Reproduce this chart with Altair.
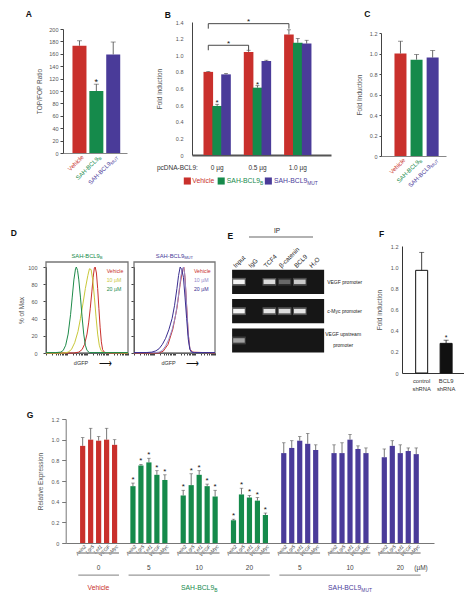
import altair as alt
import pandas as pd

FONT = "Liberation Sans"
RED = "#C9302C"
GREEN = "#158A4B"
PURPLE = "#4A3B99"
TXT = "#555555"
AXC = "#444444"
SER_COLORS = [RED, GREEN, PURPLE]

# ---------------- data ----------------
# treatment names (main part + subscript part)
names_main = ["Vehicle", "SAH-BCL9", "SAH-BCL9"]
names_sub = ["", "B", "MUT"]

# A
a_values = [173, 100, 159]
a_errors = [8, 11, 20]
a_sig = ["", "*", ""]

# B  (y positions follow the printed axis, whose labels repeat 0.6)
b_doses = ["0 µg", "0.5 µg", "1.0 µg"]
b_tick_labels = ["0", "0.2", "0.4", "0.6", "0.6", "0.8", "1.0", "1.2", "1.4"]
b_vehicle = [1.00, 1.24, 1.45]
b_bcl9b = [0.59, 0.81, 1.35]
b_mut = [0.97, 1.13, 1.34]
b_vehicle_err = [0.005, 0.02, 0.056]
b_bcl9b_err = [0.02, 0.024, 0.052]
b_mut_err = [0.01, 0.01, 0.04]
b_bcl9b_sig = ["*", "*", ""]
b_bracket_from = ["0 µg", "0 µg"]
b_bracket_to = ["0.5 µg", "1.0 µg"]
b_bracket_level = [1.32, 1.58]

# C
c_values = [1.00, 0.94, 0.96]
c_errors = [0.12, 0.05, 0.07]

# D  flow histograms (x: log fluorescence 0-100, y: % of max)
d_left_vehicle_x = [0, 34, 40, 44, 47, 50, 52, 54, 56, 57.5, 59, 60, 61.5, 63, 64.5, 66, 67.5, 69, 71, 75, 100]
d_left_vehicle_y = [0, 0, 1, 4, 10, 22, 35, 52, 72, 88, 99, 100, 93, 75, 52, 30, 13, 4, 1, 0, 0]
d_left_10_x = [0, 22, 27, 31, 35, 39, 42, 45, 48, 51, 53, 55, 57, 59, 61, 63, 65, 67, 70, 100]
d_left_10_y = [0, 0, 1, 4, 12, 25, 40, 57, 75, 90, 98, 97, 85, 65, 42, 22, 9, 3, 0.5, 0]
d_left_20_x = [0, 12, 18, 21, 24, 27, 30, 32, 34, 36, 37, 38.5, 40, 42, 44, 46, 48, 50, 53, 100]
d_left_20_y = [0.5, 0.5, 1, 3, 9, 22, 45, 65, 85, 98, 100, 96, 85, 65, 42, 22, 9, 3, 0.5, 0.5]
d_right_vehicle_x = [0, 30, 36, 42, 48, 53, 57, 60, 61.5, 63, 65, 67, 69, 72, 100]
d_right_vehicle_y = [0, 0, 2, 10, 28, 52, 80, 97, 100, 88, 55, 22, 5, 1, 0]
d_right_10_x = [0, 25, 31, 35, 39, 43, 47, 51, 54, 56, 58, 60, 61, 62.5, 64, 65.5, 67, 68.5, 70, 73, 100]
d_right_10_y = [0.5, 0.5, 1, 3, 8, 16, 27, 42, 60, 75, 90, 98, 100, 93, 72, 45, 22, 8, 2, 0.5, 0.5]
d_right_20_x = [0, 15, 22, 27, 31, 35, 39, 43, 47, 50, 53, 55, 57, 59, 61, 63, 65, 67, 69, 71, 75, 100]
d_right_20_y = [0.5, 0.5, 1, 2.5, 5, 10, 17, 27, 40, 55, 75, 90, 100, 97, 88, 65, 40, 16, 4, 1, 0.5, 0.5]
d_legend = ["Vehicle", "10 µM", "20 µM"]
d_left_colors = [RED, "#C9C83A", "#1E8B4A"]
d_right_colors = [RED, "#948CCB", "#3B2E90"]

# E  ChIP gel (band intensity 0-1)
e_lanes = ["Input", "IgG", "TCF4", "β-catenin", "BCL9", "H₂O"]
e_targets = ["VEGF promoter", "c-Myc promoter", "VEGF upstream\npromoter"]
e_bands = [[1.0, 0.0, 0.85, 0.3, 0.75, 0.0],
           [1.0, 0.0, 0.9, 0.85, 0.9, 0.0],
           [0.55, 0.0, 0.0, 0.0, 0.0, 0.0]]

# F
f_labels = ["control\nshRNA", "BCL9\nshRNA"]
f_values = [0.97, 0.28]
f_errors = [0.17, 0.03]
f_sig = ["", "*"]
f_fill = ["#FFFFFF", "#111111"]

# G
g_group_treatment = [0, 1, 1, 1, 2, 2, 2]
g_group_dose = ["0", "5", "10", "20", "5", "10", "20"]
g_genes = ["Axin2", "Lgr5", "Lef1", "VEGF", "cMyc"]
g_values = [[0.94, 1.00, 0.99, 1.00, 0.95],
            [0.55, 0.75, 0.78, 0.66, 0.61],
            [0.46, 0.56, 0.66, 0.55, 0.45],
            [0.22, 0.47, 0.44, 0.41, 0.27],
            [0.87, 0.92, 0.99, 0.96, 0.90],
            [0.87, 0.87, 1.00, 0.91, 0.87],
            [0.83, 0.94, 0.87, 0.89, 0.86]]
g_errors = [[0.08, 0.11, 0.04, 0.11, 0.05],
            [0.03, 0.01, 0.04, 0.04, 0.05],
            [0.05, 0.11, 0.04, 0.02, 0.06],
            [0.01, 0.06, 0.02, 0.03, 0.02],
            [0.10, 0.07, 0.04, 0.10, 0.05],
            [0.08, 0.10, 0.05, 0.03, 0.05],
            [0.08, 0.05, 0.08, 0.03, 0.06]]
g_sig = [False, True, True, True, False, False, False]

# ---------------- layout helpers (one canvas, one view) ----------------
W, H = 456, 584
OX, OY = 7, 8          # canvas origin in figure coordinates


def PX(v):
    return v - OX


def PY(v):
    return v - OY


def sc(domain, rng):
    return alt.Scale(domain=domain, range=rng, nice=False, zero=False)


def yaxis_at(xfig, **kw):
    return alt.Axis(orient="left", offset=-PX(xfig), **kw)


def xaxis_at(yfig, **kw):
    return alt.Axis(orient="bottom", offset=-(H - PY(yfig)), **kw)


def text_layer(df, X, Y, **kw):
    return alt.Chart(df).mark_text(**kw).encode(
        x=X, y=Y, text="t:N", color=alt.Color("c:N", scale=None))


CHAR_W = {"A": .667, "B": .667, "C": .722, "H": .722, "L": .556, "M": .833, "S": .667,
          "T": .611, "U": .722, "V": .667, "-": .333, "e": .556, "h": .556, "i": .222,
          "c": .5, "l": .222, " ": .278}


def text_w(s, size):
    return sum(CHAR_W.get(ch, .556) for ch in s) * size


def name_layers(X, Y, x, y, main, sub, color, size, align="center", angle=0):
    """Text with a subscript part, e.g. SAH-BCL9 with B or MUT lowered."""
    ss = size * 0.72
    wm, ws = text_w(main, size), text_w(sub, ss)
    start = {"center": -(wm + ws) / 2, "left": 0, "right": -(wm + ws)}[align]
    out = [text_layer(pd.DataFrame({"x": [x], "y": [y], "t": [main], "c": [color]}), X, Y,
                      fontSize=size, align="left", baseline="middle", angle=angle, dx=start)]
    if sub:
        out.append(text_layer(pd.DataFrame({"x": [x], "y": [y], "t": [sub], "c": [color]}), X, Y,
                              fontSize=ss, align="left", baseline="middle", angle=angle,
                              dx=start + wm, dy=size * 0.38))
    return out


def letter(X, Y, x, y, t):
    return alt.Chart(pd.DataFrame({"x": [x], "y": [y], "t": [t], "c": ["#111"]})).mark_text(
        fontSize=8.5, fontWeight="bold", align="left", baseline="middle").encode(
        x=X, y=Y, text="t:N", color=alt.Color("c:N", scale=None))


def errbars(df, X, ys, ay, cap=5, color="#444"):
    rule = alt.Chart(df).mark_rule(strokeWidth=0.8, color=color).encode(
        x=X, y=alt.Y("y:Q", scale=ys, axis=ay), y2="e:Q")
    tick = alt.Chart(df).mark_tick(orient="horizontal", size=cap, thickness=0.8, color=color).encode(
        x=X, y=alt.Y("e:Q", scale=ys, axis=ay))
    return rule + tick


ONE_DEC = "datum.value == 0 ? '0' : format(datum.value, '.1f')"
NOX = dict(labels=False, ticks=False, title=None)

# ---------------- panel A ----------------
a_xs = sc([0, 3.2], [PX(62), PX(126)])
a_ys = sc([0, 200], [PY(153), PY(29)])
a_ax = xaxis_at(153, domainColor="#888", **NOX)
a_ay = yaxis_at(62, values=list(range(0, 201, 20)), title="TOP/FOP Ratio",
                titlePadding=6, tickSize=3, labelPadding=2)
XA = alt.X("x:Q", scale=a_xs, axis=a_ax)
YA = alt.Y("y:Q", scale=a_ys, axis=a_ay)
a_df = pd.DataFrame({
    "x": [i + 0.68 for i in range(3)], "y": a_values,
    "e": [v + e for v, e in zip(a_values, a_errors)], "c": SER_COLORS})
a_star = pd.DataFrame({"x": a_df["x"], "y": a_df["e"], "t": a_sig, "c": ["#111"] * 3})
a_names = []
for i in range(3):
    a_names += name_layers(XA, YA, i + 0.68 + 0.2, -5, names_main[i], names_sub[i],
                           SER_COLORS[i], 6, align="right", angle=315)
panelA = alt.layer(
    alt.Chart(a_df).mark_bar(size=14).encode(x=XA, y=YA, color=alt.Color("c:N", scale=None)),
    errbars(a_df, XA, a_ys, a_ay),
    text_layer(a_star, XA, YA, fontSize=9, baseline="alphabetic", dy=1),
    *a_names,
    letter(XA, YA, -2.5, 224, "A"),
)

# ---------------- panel B ----------------
b_xs = sc([0, 3.2], [PX(191), PX(330)])
b_ys = sc([0, 1.6], [PY(155), PY(22)])
b_ax = xaxis_at(155, domainColor="#555", domainWidth=2, **NOX)
b_label_expr = "[" + ",".join("'%s'" % s for s in b_tick_labels) + "][round(datum.value*5)]"
b_ay = yaxis_at(191, values=[i * 0.2 for i in range(9)], labelExpr=b_label_expr,
                title="Fold induction", tickSize=0, labelPadding=9, titlePadding=13)
XB = alt.X("x:Q", scale=b_xs, axis=b_ax)
YB = alt.Y("y:Q", scale=b_ys, axis=b_ay)
b_rows = []
for si, (vals, errs) in enumerate(zip([b_vehicle, b_bcl9b, b_mut],
                                      [b_vehicle_err, b_bcl9b_err, b_mut_err])):
    for gi in range(len(b_doses)):
        b_rows.append({"x": gi + 0.5 + (si - 1) * 0.22, "y": vals[gi], "e": vals[gi] + errs[gi],
                       "c": SER_COLORS[si],
                       "t": b_bcl9b_sig[gi] if si == 1 else ""})
b_df = pd.DataFrame(b_rows)
b_star = pd.DataFrame({"x": b_df["x"], "y": b_df["e"], "t": b_df["t"], "c": ["#111"] * len(b_df)})

br_h, br_v, br_s = [], [], []
for f, t, lv in zip(b_bracket_from, b_bracket_to, b_bracket_level):
    x1 = b_doses.index(f) + 0.5 - 0.22
    x2 = b_doses.index(t) + 0.5 - 0.22
    br_h.append({"x": x1, "x2": x2, "y": lv, "y2": lv})
    br_v.append({"x": x1, "x2": x1, "y": lv, "y2": lv - 0.06})
    br_v.append({"x": x2, "x2": x2, "y": lv, "y2": lv - 0.06})
    br_s.append({"x": (x1 + x2) / 2, "y": lv + 0.005, "t": "*", "c": "#111"})
br_df = pd.DataFrame(br_h + br_v)

b_dose_df = pd.DataFrame({"x": [0.02] + [i + 0.5 for i in range(3)], "y": [-0.157] * 4,
                          "t": ["pcDNA-BCL9:"] + b_doses, "c": ["#333"] * 4})
b_leg_sq = pd.DataFrame({"x": [-0.24, 0.60, 1.77], "y": [-0.313] * 3, "c": SER_COLORS})
b_leg_x = [-0.115, 0.74, 1.91]
b_names = []
for i in range(3):
    b_names += name_layers(XB, YB, b_leg_x[i], -0.313, names_main[i], names_sub[i],
                           SER_COLORS[i], 6.8, align="left")
panelB = alt.layer(
    alt.Chart(b_df).mark_bar(size=9.6).encode(x=XB, y=YB, color=alt.Color("c:N", scale=None)),
    errbars(b_df, XB, b_ys, b_ay, cap=4),
    text_layer(b_star, XB, YB, fontSize=8, baseline="alphabetic", dy=1),
    alt.Chart(br_df).mark_rule(strokeWidth=0.9, color="#333").encode(x=XB, x2="x2:Q", y=YB, y2="y2:Q"),
    text_layer(pd.DataFrame(br_s), XB, YB, fontSize=8, baseline="alphabetic", dy=1),
    text_layer(b_dose_df.iloc[:1], XB, YB, fontSize=6.5, align="right", baseline="middle"),
    text_layer(b_dose_df.iloc[1:], XB, YB, fontSize=6.5, align="center", baseline="middle"),
    alt.Chart(b_leg_sq).mark_square(size=50, opacity=1).encode(x=XB, y=YB, color=alt.Color("c:N", scale=None)),
    *b_names,
    letter(XB, YB, -0.8, 1.685, "B"),
)

# ---------------- panel C ----------------
c_xs = sc([0, 3.42], [PX(380), PX(445)])
c_ys = sc([0, 1.2], [PY(156), PY(33)])
c_ax = xaxis_at(156, domainColor="#888", **NOX)
c_ay = yaxis_at(380, values=[0, 0.2, 0.4, 0.6, 0.8, 1.0, 1.2], labelExpr=ONE_DEC,
                title="Fold Induction", tickSize=2, labelPadding=2, titlePadding=7)
XC = alt.X("x:Q", scale=c_xs, axis=c_ax)
YC = alt.Y("y:Q", scale=c_ys, axis=c_ay)
c_df = pd.DataFrame({"x": [i + 0.9 for i in range(3)], "y": c_values,
                     "e": [v + e for v, e in zip(c_values, c_errors)], "c": SER_COLORS})
c_names = []
for i in range(3):
    c_names += name_layers(XC, YC, i + 0.9 + 0.25, -0.03, names_main[i], names_sub[i],
                           SER_COLORS[i], 6, align="right", angle=315)
panelC = alt.layer(
    alt.Chart(c_df).mark_bar(size=12).encode(x=XC, y=YC, color=alt.Color("c:N", scale=None)),
    errbars(c_df, XC, c_ys, c_ay),
    *c_names,
    letter(XC, YC, -1.35, 1.385, "C"),
)

# ---------------- panel D ----------------
d_minor = [0, 7.5, 11.9, 15.1, 17.5, 19.5, 21.1, 22.6, 23.9]
d_ticks = [dec + m for dec in [0, 25, 50, 75] for m in d_minor] + [100]


def d_panel(x0, x1, curves_x, curves_y, colors, name_idx, left):
    xs = sc([0, 100], [PX(x0), PX(x1)])
    ys = sc([0, 100], [PY(353), PY(267)])
    ax = xaxis_at(353, values=d_ticks, labels=False, title=None, tickSize=2, domainColor="#333")
    ay = yaxis_at(x0, values=[0, 20, 40, 60, 80, 100], title="% of Max" if left else None,
                  labels=left, tickSize=3, labelPadding=6, titlePadding=3, domainColor="#333")
    X = alt.X("x:Q", scale=xs, axis=ax)
    Y = alt.Y("y:Q", scale=ys, axis=ay)
    rows = []
    for ci, (cx, cy) in enumerate(zip(curves_x, curves_y)):
        for xv, yv in zip(cx, cy):
            rows.append({"x": xv, "y": yv, "s": ci, "c": colors[ci]})
    cdf = pd.DataFrame(rows)
    frame = pd.DataFrame({"x": [0], "x2": [100], "y": [0], "y2": [105.8]})
    leg = pd.DataFrame({"x": [74] * 3, "y": [95.3, 85, 74.4], "t": d_legend, "c": colors})
    lab = pd.DataFrame({"x": [42.7, 72], "y": [-11.6, -11.6], "t": ["dGFP", "⟶"], "c": ["#333", "#111"]})
    layers = [
        alt.Chart(frame).mark_rect(fillOpacity=0, stroke="#777", strokeWidth=1.3).encode(
            x=X, x2="x2:Q", y=Y, y2="y2:Q"),
        alt.Chart(cdf).mark_line(strokeWidth=1).encode(
            x=X, y=Y, detail="s:N", color=alt.Color("c:N", scale=None)),
        text_layer(leg, X, Y, fontSize=5.2, align="left", baseline="middle"),
        *name_layers(X, Y, 50, 112.8, names_main[name_idx], names_sub[name_idx],
                     SER_COLORS[name_idx], 5.8, align="center"),
        text_layer(lab.iloc[:1], X, Y, fontSize=5.5, align="center", baseline="middle"),
        text_layer(lab.iloc[1:], X, Y, fontSize=9, align="center", baseline="middle"),
    ]
    if left:
        layers.append(letter(X, Y, -43, 139.5, "D"))
    return alt.layer(*layers)


panelD1 = d_panel(45, 127, [d_left_vehicle_x, d_left_10_x, d_left_20_x],
                  [d_left_vehicle_y, d_left_10_y, d_left_20_y], d_left_colors, 1, True)
panelD2 = d_panel(133, 214, [d_right_vehicle_x, d_right_10_x, d_right_20_x],
                  [d_right_vehicle_y, d_right_10_y, d_right_20_y], d_right_colors, 2, False)

# ---------------- panel E ----------------
e_xs = sc([-1.18, 10.72], [PX(220), PX(401)])
e_ys = sc([0, 8], [PY(353), PY(156)])
XE = alt.X("x:Q", scale=e_xs, axis=None)
YE = alt.Y("y:Q", scale=e_ys, axis=None)
row_c = [2.89 - 1.19 * k for k in range(3)]
gel = pd.DataFrame({"x": [-0.45] * 3, "x2": [5.6] * 3,
                    "y": [c - 0.49 for c in row_c], "y2": [c + 0.49 for c in row_c]})
bands, glow = [], []
for k, row in enumerate(e_bands):
    for li, v in enumerate(row):
        if v > 0:
            bands.append({"x": li - 0.38, "x2": li + 0.38, "y": row_c[k] - 0.09,
                          "y2": row_c[k] + 0.09, "o": v})
            glow.append({"x": li - 0.45, "x2": li + 0.45, "y": row_c[k] - 0.16,
                         "y2": row_c[k] + 0.16, "o": v * 0.3})
lane_df = pd.DataFrame({"x": [i - 0.3 for i in range(6)], "y": [3.5] * 6, "t": e_lanes,
                        "c": ["#222"] * 6})
tgt_df = pd.DataFrame({"x": [5.8, 5.8], "y": [row_c[0], row_c[1]], "t": e_targets[:2],
                       "c": ["#222"] * 2})
tgt2_df = pd.DataFrame({"x": [6.85], "y": [0.77], "t": [e_targets[2]], "c": ["#222"]})
ip_line = pd.DataFrame({"x": [0.66], "x2": [4.87], "y": [4.71], "y2": [4.71]})
ip_txt = pd.DataFrame({"x": [2.5], "y": [4.97], "t": ["IP"], "c": ["#222"]})
panelE = alt.layer(
    alt.Chart(gel).mark_rect(color="#161616").encode(x=XE, x2="x2:Q", y=YE, y2="y2:Q"),
    alt.Chart(pd.DataFrame(glow)).mark_rect(color="#FFFFFF").encode(
        x=XE, x2="x2:Q", y=YE, y2="y2:Q", opacity=alt.Opacity("o:Q", scale=None)),
    alt.Chart(pd.DataFrame(bands)).mark_rect(color="#F4F4F4").encode(
        x=XE, x2="x2:Q", y=YE, y2="y2:Q", opacity=alt.Opacity("o:Q", scale=None)),
    text_layer(lane_df, XE, YE, fontSize=6.3, angle=315, align="left", baseline="middle"),
    text_layer(tgt_df, XE, YE, fontSize=5, align="left", baseline="middle"),
    text_layer(tgt2_df, XE, YE, fontSize=5, align="center", baseline="middle", lineBreak="\n",
               lineHeight=11),
    alt.Chart(ip_line).mark_rule(color="#666", strokeWidth=1.2).encode(x=XE, x2="x2:Q", y=YE, y2="y2:Q"),
    text_layer(ip_txt, XE, YE, fontSize=6.5, align="center", baseline="middle"),
    letter(XE, YE, -0.75, 4.75, "E"),
)

# ---------------- panel F ----------------
f_xs = sc([0, 2.25], [PX(401), PX(466)])
f_ys = sc([0, 1.2], [PY(373), PY(246)])
f_ax = xaxis_at(373, domainColor="#333", **NOX)
f_ay = yaxis_at(401, values=[0, 0.2, 0.4, 0.6, 0.8, 1.0, 1.2], labelExpr=ONE_DEC,
                title="Fold induction", tickSize=0, labelPadding=4, titlePadding=8, domainColor="#333")
XF = alt.X("x:Q", scale=f_xs, axis=f_ax)
YF = alt.Y("y:Q", scale=f_ys, axis=f_ay)
f_df = pd.DataFrame({"x": [0.6, 1.6], "y": f_values,
                     "e": [v + e for v, e in zip(f_values, f_errors)], "f": f_fill})
f_star = pd.DataFrame({"x": [0.6, 1.6], "y": f_df["e"], "t": f_sig, "c": ["#111"] * 2})
f_lab = pd.DataFrame({"x": [0.6, 1.6], "y": [-0.05] * 2, "t": f_labels, "c": ["#333"] * 2})
panelF = alt.layer(
    alt.Chart(f_df).mark_bar(size=12, stroke="#111", strokeWidth=1).encode(
        x=XF, y=YF, fill=alt.Fill("f:N", scale=None)),
    errbars(f_df, XF, f_ys, f_ay, cap=5, color="#111"),
    text_layer(f_star, XF, YF, fontSize=7, baseline="alphabetic", dy=0),
    text_layer(f_lab, XF, YF, fontSize=5.8, align="center", baseline="top", lineBreak="\n"),
    letter(XF, YF, -1.15, 1.31, "F"),
)

# ---------------- panel G ----------------
g_xs = sc([0, 44.9], [PX(64.7), PX(433)])
g_ys = sc([0, 1.2], [PY(543), PY(419)])
g_ax = xaxis_at(543, domainColor="#777", **NOX)
g_ay = yaxis_at(64.7, values=[0, 0.2, 0.4, 0.6, 0.8, 1.0, 1.2], labelExpr=ONE_DEC,
                title="Relative Expression", tickSize=4, labelPadding=3,
                titlePadding=8, domainColor="#777", tickColor="#777")
XG = alt.X("x:Q", scale=g_xs, axis=g_ax)
YG = alt.Y("y:Q", scale=g_ys, axis=g_ay)
g_rows, g_lab_rows, g_star_rows = [], [], []
for gi in range(len(g_values)):
    col = SER_COLORS[g_group_treatment[gi]]
    for k, gene in enumerate(g_genes):
        x = 1.5 + 6.3 * gi + k
        v = g_values[gi][k]
        e = v + g_errors[gi][k]
        g_rows.append({"x": x, "y": v, "e": e, "c": col})
        g_lab_rows.append({"x": x + 0.3, "y": -0.025, "t": gene, "c": "#444"})
        if g_sig[gi]:
            g_star_rows.append({"x": x, "y": e, "t": "*", "c": "#111"})
g_df = pd.DataFrame(g_rows)
centers = [3.5 + 6.3 * gi for gi in range(len(g_values))]
g_lines = [{"x": c - 2.55, "x2": c + 2.55, "y": -0.097, "y2": -0.097} for c in centers]
g_dose_df = pd.DataFrame({"x": centers + [43.9], "y": [-0.245] * (len(centers) + 1),
                          "t": g_group_dose + ["(µM)"], "c": ["#444"] * (len(centers) + 1)})
g_names = []
for ti in range(3):
    cs = [centers[gi] for gi in range(len(centers)) if g_group_treatment[gi] == ti]
    g_lines.append({"x": cs[0] - 2.55, "x2": cs[-1] + 2.55, "y": -0.31, "y2": -0.31})
    g_names += name_layers(XG, YG, sum(cs) / len(cs), -0.44, names_main[ti], names_sub[ti],
                           SER_COLORS[ti], 6.8, align="center")
panelG = alt.layer(
    alt.Chart(g_df).mark_bar(size=5.2).encode(x=XG, y=YG, color=alt.Color("c:N", scale=None)),
    errbars(g_df, XG, g_ys, g_ay, cap=3.5, color="#555"),
    text_layer(pd.DataFrame(g_star_rows), XG, YG, fontSize=8, baseline="alphabetic", dy=-1),
    text_layer(pd.DataFrame(g_lab_rows), XG, YG, fontSize=5, fontStyle="italic", angle=315,
               align="right", baseline="middle"),
    alt.Chart(pd.DataFrame(g_lines)).mark_rule(color="#999", strokeWidth=1.3).encode(
        x=XG, x2="x2:Q", y=YG, y2="y2:Q"),
    text_layer(g_dose_df, XG, YG, fontSize=6.5, align="center", baseline="middle"),
    *g_names,
    letter(XG, YG, -5.5, 1.24, "G"),
)

chart = alt.layer(
    panelA, panelB, panelC, panelD1, panelD2, panelE, panelF, panelG
).resolve_scale(x="independent", y="independent").properties(
    width=W, height=H, padding=0
).configure_view(stroke=None).configure_axis(
    labelFont=FONT, titleFont=FONT, labelFontSize=5.5, titleFontSize=6.5,
    labelColor=TXT, titleColor=TXT, titleFontWeight="normal",
    domainColor=AXC, tickColor=AXC, grid=False
).configure_text(font=FONT)

chart.save("out.html", embed_options={"renderer": "svg", "actions": False})
